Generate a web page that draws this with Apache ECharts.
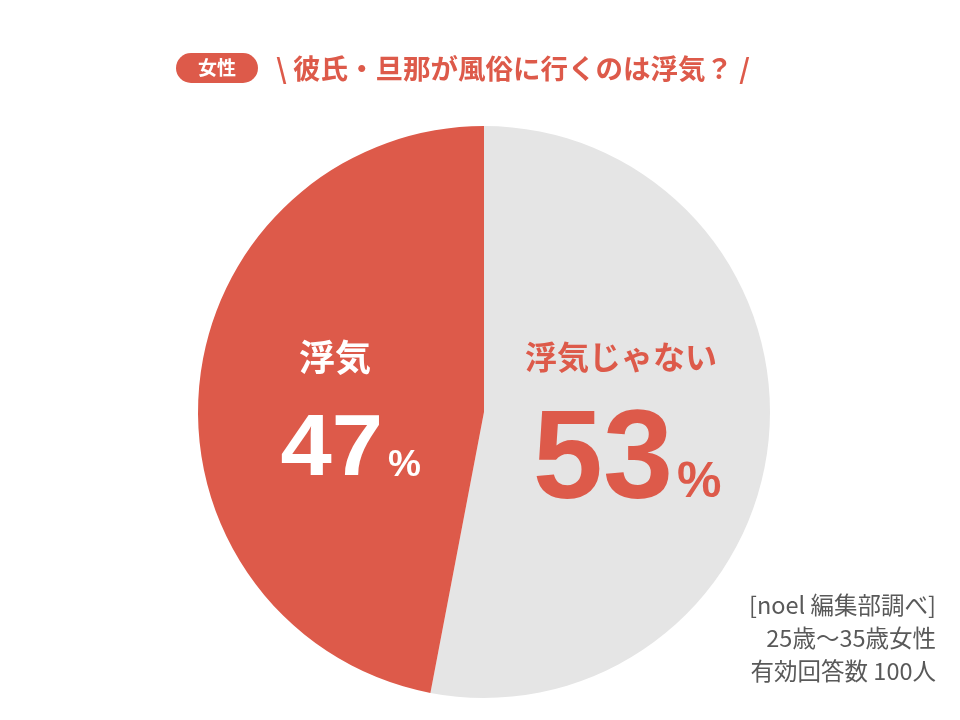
<!DOCTYPE html>
<html><head><meta charset="utf-8">
<script src="https://cdn.jsdelivr.net/npm/echarts@6/dist/echarts.min.js"></script>
<style>html,body{margin:0;padding:0;background:#fff}#c{width:960px;height:720px}</style>
</head><body><div id="c"></div>
<script>
const categories = ['浮気じゃない', '浮気'];
const values = [53, 47];
const colors = ['#e5e5e5', '#dd5a4a'];
const badge = '女性';
const title = '\\ 彼氏・旦那が風俗に行くのは浮気？ /';
const noteLines = ['[noel 編集部調べ]', '25歳〜35歳女性', '有効回答数 100人'];

const FONT = '"Noto Sans CJK JP", sans-serif';
const NUMF = '"Liberation Sans", Arial, sans-serif';
const chart = echarts.init(document.getElementById('c'));
chart.setOption({
  backgroundColor: '#fff',
  animation: false,
  series: [{
    type: 'pie',
    z: 1,
    center: [484, 412],
    radius: [0, 286],
    startAngle: 90,
    clockwise: true,
    label: { show: false },
    labelLine: { show: false },
    emphasis: { disabled: true },
    data: categories.map((c, i) => ({ name: c, value: values[i], itemStyle: { color: colors[i] } }))
  }],
  graphic: { elements: [
    { type: 'rect', z: 10, shape: { x: 176, y: 53, width: 82, height: 30, r: 15 }, style: { fill: '#dd5a4a' } },
    { type: 'text', z: 11, x: 217, y: 68, style: { text: badge, fill: '#fff', font: 'bold 19px ' + FONT, align: 'center', verticalAlign: 'middle' } },
    { type: 'text', z: 11, x: 276, y: 69, style: { text: title, fill: '#dd5a4a', font: 'bold 27.5px ' + FONT, align: 'left', verticalAlign: 'middle' } },
    // 浮気 (left)
    { type: 'text', z: 11, x: 335, y: 357, style: { text: categories[1], fill: '#fff', font: 'bold 36px ' + FONT, align: 'center', verticalAlign: 'middle' } },
    { type: 'text', z: 11, x: 383, y: 408, scaleX: 1.06, style: { text: String(values[1]), fill: '#fff', font: 'bold 87px ' + NUMF, align: 'right', verticalAlign: 'top' } },
    { type: 'text', z: 11, x: 388, y: 447, style: { text: '%', fill: '#fff', font: 'bold 37px ' + NUMF, align: 'left', verticalAlign: 'top' } },
    // 浮気じゃない (right)
    { type: 'text', z: 11, x: 621, y: 357, style: { text: categories[0], fill: '#dd5a4a', font: 'bold 32px ' + FONT, align: 'center', verticalAlign: 'middle' } },
    { type: 'text', z: 11, x: 673, y: 400, style: { text: String(values[0]), fill: '#dd5a4a', font: 'bold 126px ' + NUMF, align: 'right', verticalAlign: 'top' } },
    { type: 'text', z: 11, x: 677, y: 458, style: { text: '%', fill: '#dd5a4a', font: 'bold 50px ' + NUMF, align: 'left', verticalAlign: 'top' } },
    // notes
    ...noteLines.map((t, i) => ({ type: 'text', z: 11, x: 936, y: 605 + i * 33, style: { text: t, fill: '#595959', font: '23.5px ' + FONT, align: 'right', verticalAlign: 'middle' } }))
  ]}
});
</script></body></html>
